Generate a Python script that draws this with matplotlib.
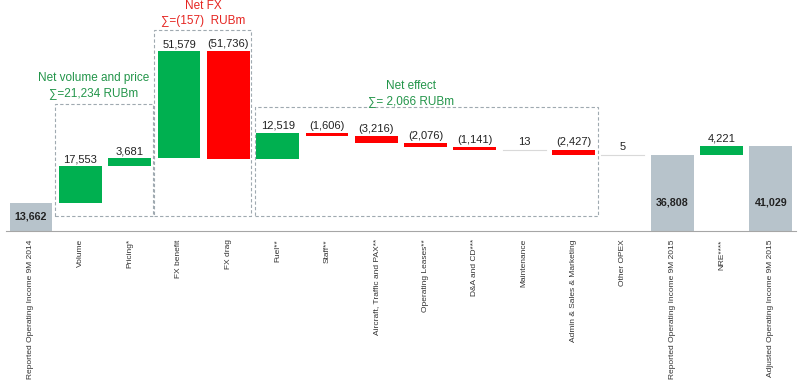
import matplotlib.pyplot as plt
from matplotlib.patches import Rectangle

plt.rcParams['font.family'] = ['Liberation Sans', 'DejaVu Sans']

categories = ['Reported Operating Income 9M 2014', 'Volume', 'Pricing*', 'FX benefit', 'FX drag',
              'Fuel**', 'Staff**', 'Aircraft, Traffic and PAX**', 'Operating Leases**', 'D&A and CD***',
              'Maintenance', 'Admin & Sales & Marketing', 'Other OPEX', 'Reported Operating Income 9M 2015',
              'NRE****', 'Adjusted Operating Income 9M 2015']
values = [13662, 17553, 3681, 51579, -51736, 12519, -1606, -3216, -2076, -1141, 13, -2427, 5,
          36808, 4221, 41029]
is_total = [True, False, False, False, False, False, False, False, False, False, False, False, False,
            True, False, True]

# group annotations: (line 1, line 2, colour)
groups = [('Net volume and price', '\u2211=21,234 RUBm', '#23954a'),
          ('Net FX', '\u2211=(157)  RUBm', '#e52521'),
          ('Net effect', '\u2211= 2,066 RUBm', '#23954a')]

GREEN = '#00b050'
RED = '#ff0000'
GREY = '#b7c3cb'

fig = plt.figure(figsize=(8, 3.81), dpi=100)
ax = fig.add_axes([0.0079, 0.394, 0.9866, 0.606])

running = 0
for i, v in enumerate(values):
    if is_total[i]:
        bottom, h, col = 0, v, GREY
        running = v
    else:
        bottom = running if v >= 0 else running + v
        h = abs(v)
        col = GREEN if v >= 0 else RED
        running += v
    if h < 100:
        # too small to see as a bar, shown as a faint line
        ax.plot([i - 0.435, i + 0.435], [bottom, bottom], color='#d9d9d9', lw=0.8)
    else:
        ax.bar(i, h, bottom=bottom, width=0.87, color=col, linewidth=0)
    top = bottom + h
    if is_total[i]:
        ax.text(i, min(v / 2, 13500), f'{v:,}', ha='center', va='center',
                fontsize=7.7, fontweight='bold', color='#222222')
    else:
        txt = f'{v:,}' if v >= 0 else f'({-v:,})'
        ax.annotate(txt, (i, top), xytext=(0, 1.5), textcoords='offset points',
                    ha='center', va='bottom', fontsize=8, color='#222222')

# dashed group boxes
boxes = [(0.49, 7200, 1.98, 54000), (2.49, 7200, 1.97, 89700), (4.54, 7200, 6.95, 52500)]
for x0, y0, w, h in boxes:
    ax.add_patch(Rectangle((x0, y0), w, h, fill=False, edgecolor='#9fa9b0',
                           lw=0.8, linestyle=(0, (3, 2))))

label_pos = [(1.26, 73800), (3.49, 108600), (7.7, 70000)]
for (l1, l2, col), (x, y) in zip(groups, label_pos):
    ax.text(x, y, l1, ha='center', va='center', fontsize=8.5, color=col)
    ax.text(x, y - 7200, l2, ha='center', va='center', fontsize=8.5, color=col)

ax.set_xlim(-0.5, 15.5)
ax.set_ylim(0, 111300)
ax.set_xticks(range(len(categories)))
ax.set_xticklabels(categories, rotation=90, fontsize=6, color='#333333', va='top')
ax.tick_params(axis='x', length=0, pad=6)
ax.set_yticks([])
for s in ['top', 'left', 'right']:
    ax.spines[s].set_visible(False)
ax.spines['bottom'].set_color('#a6a6a6')
ax.spines['bottom'].set_linewidth(0.8)

fig.savefig('out.png', dpi=100)
